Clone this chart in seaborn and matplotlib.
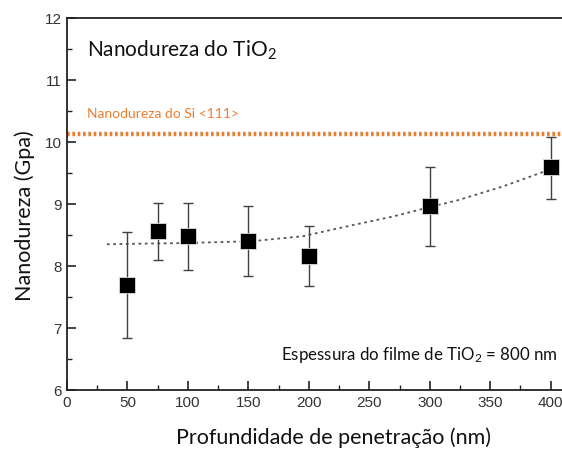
import matplotlib
matplotlib.use("Agg")
import matplotlib.pyplot as plt
import seaborn as sns
import numpy as np
import pandas as pd
from matplotlib.ticker import MultipleLocator

# Data
depth = [50, 75, 100, 150, 200, 300, 400]
hardness = [7.69, 8.56, 8.48, 8.41, 8.16, 8.97, 9.59]
err_low = [6.84, 8.09, 7.94, 7.84, 7.68, 8.33, 9.08]
err_high = [8.55, 9.02, 9.02, 8.96, 8.64, 9.60, 10.08]

fit_x = [33, 60, 97, 153, 195, 234, 270, 300, 323, 360, 400, 414]
fit_y = [8.35, 8.36, 8.37, 8.40, 8.48, 8.65, 8.80, 8.95, 9.06, 9.28, 9.56, 9.73]

si_hardness = 10.13

title_text = "Nanodureza do TiO$_2$"
si_label = "Nanodureza do Si <111>"
film_text = "Espessura do filme de TiO$_2$ = 800 nm"
xlabel = "Profundidade de penetração (nm)"
ylabel = "Nanodureza (Gpa)"

sns.set_theme(style="white")
plt.rcParams['font.family'] = ['Lato', 'DejaVu Sans']
plt.rcParams['mathtext.fontset'] = 'custom'
plt.rcParams['mathtext.rm'] = 'Lato'
plt.rcParams['mathtext.it'] = 'Lato:italic'

fig = plt.figure(figsize=(5.62, 4.51), dpi=100)
ax = fig.add_axes([67/562, 1 - 390/451, 1 - 67/562 + 0.01, (390 - 18) / 451])

df = pd.DataFrame({"x": depth, "y": hardness})
fit_df = pd.DataFrame({"x": fit_x, "y": fit_y})

# Si reference line
ax.axhline(si_hardness, color="#ED7D31", lw=3.2, ls=(0, (0.6, 0.6)), zorder=1)

# fit curve
sns.lineplot(data=fit_df, x="x", y="y", ax=ax, color="#555555", lw=1.3,
             linestyle=(0, (1.5, 2.0)), zorder=2)

# error bars
lo = np.array(hardness) - np.array(err_low)
hi = np.array(err_high) - np.array(hardness)
ax.errorbar(depth, hardness, yerr=[lo, hi], fmt="none", ecolor="#404040",
            elinewidth=1.0, capsize=3.5, capthick=1.0, zorder=3)

sns.scatterplot(data=df, x="x", y="y", ax=ax, marker="s", s=125, color="black",
                edgecolor="#dddddd", linewidth=0.6, zorder=4)

ax.set_xlim(0, 414)
ax.set_ylim(6, 12)
ax.xaxis.set_major_locator(MultipleLocator(50))
ax.xaxis.set_minor_locator(MultipleLocator(25))
ax.yaxis.set_major_locator(MultipleLocator(1))
ax.yaxis.set_minor_locator(MultipleLocator(0.5))

ax.tick_params(which="major", direction="in", length=6.5, width=1.2, color="#222222",
               labelsize=11, labelcolor="#333333", bottom=True, left=True,
               top=False, right=False, pad=4)
ax.tick_params(which="minor", direction="in", length=3.5, width=1.0, color="#222222",
               bottom=True, left=True, top=False, right=False)
for lab in ax.get_xticklabels() + ax.get_yticklabels():
    lab.set_family(["Liberation Sans", "DejaVu Sans"])

for side in ["left", "bottom", "top"]:
    ax.spines[side].set_color("#222222")
    ax.spines[side].set_linewidth(1.3)
ax.spines["right"].set_visible(False)

ax.set_xlabel(xlabel, fontsize=15.5, color="#111111")
ax.set_ylabel(ylabel, fontsize=15.5, color="#111111")
ax.xaxis.set_label_coords(0.533, -0.1)
ax.yaxis.set_label_coords(-0.064, 0.47)

ax.text(0.04, 0.945, title_text, transform=ax.transAxes, fontsize=15,
        color="#111111", va="top", ha="left")
ax.text(0.04, 0.725, si_label, transform=ax.transAxes, fontsize=10,
        color="#ED7D31", va="bottom", ha="left")
ax.text(0.98, 0.095, film_text, transform=ax.transAxes, fontsize=12.2,
        color="#111111", va="center", ha="right")

fig.savefig("out.png", dpi=100)
